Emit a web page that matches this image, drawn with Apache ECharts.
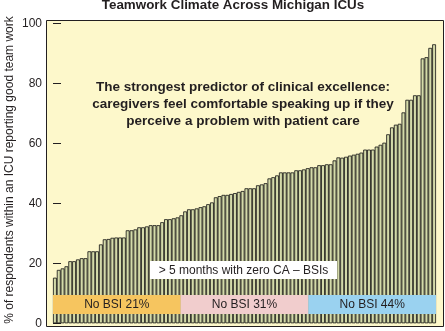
<!DOCTYPE html>
<html>
<head>
<meta charset="utf-8">
<script src="https://cdn.jsdelivr.net/npm/echarts@6/dist/echarts.min.js"></script>
<style>
  html, body { margin: 0; padding: 0; background: #ffffff; }
  #chart { width: 445px; height: 331px; }
</style>
</head>
<body>
<div id="chart"></div>
<script>
// Teamwork climate score per ICU, sorted ascending (one bar per ICU)
const teamworkPct = [
  15.2, 17.8, 18.3, 19.0, 20.7, 20.7, 21.3, 21.7, 21.7, 24.0,
  24.0, 24.0, 26.3, 28.0, 28.1, 28.5, 28.6, 28.6, 28.6, 31.0,
  31.0, 31.3, 32.0, 32.0, 32.3, 32.7, 32.7, 32.7, 33.7, 34.7,
  34.7, 35.0, 35.3, 36.0, 37.3, 38.0, 38.0, 38.3, 38.7, 39.0,
  39.7, 40.3, 42.0, 42.4, 42.8, 42.8, 43.1, 43.4, 43.8, 44.1,
  45.0, 45.0, 45.0, 46.0, 46.3, 46.7, 48.3, 48.7, 49.3, 50.3,
  50.3, 50.3, 50.3, 51.0, 51.0, 51.3, 51.7, 52.0, 52.0, 52.7,
  52.7, 53.0, 53.0, 54.3, 55.3, 55.2, 55.5, 55.9, 56.2, 56.5,
  56.9, 57.9, 57.9, 57.9, 58.9, 59.5, 60.2, 63.0, 65.3, 66.2,
  66.5, 70.3, 74.5, 74.5, 76.0, 76.0, 88.3, 88.7, 91.8, 93.0
];
const icuNames = teamworkPct.map((_, i) => 'ICU ' + (i + 1));

// Tercile bands: share of ICUs with no bloodstream infection
const tercileLabels = ['No BSI 21%', 'No BSI 31%', 'No BSI 44%'];
const tercileColors = ['#f6c55f', '#f1cdcd', '#9ad2f0'];
const tercileBand = [3.1, 9.4];   // vertical extent of the band row (axis units)

const yTicks = [0, 20, 40, 60, 80, 100];

const titleText = 'Teamwork Climate Across Michigan ICUs';
const yName = '% of respondents within an ICU reporting good team work';
const noteLines = [
  'The strongest predictor of clinical excellence:',
  'caregivers feel comfortable speaking up if they',
  'perceive a problem with patient care'
];
const boxText = '> 5 months with zero CA \u2013 BSIs';

const FONT = '"Liberation Sans", Arial, Helvetica, sans-serif';
const INK = '#231f20';

const chart = echarts.init(document.getElementById('chart'), null, { renderer: 'canvas' });

chart.setOption({
  animation: false,
  backgroundColor: '#ffffff',
  grid: {
    left: 53, right: 9, top: 23.3, bottom: 4.7,
    containLabel: false,
    outerBoundsMode: 'none'
  },
  xAxis: [
    { type: 'category', data: icuNames, show: false, boundaryGap: true },
    { type: 'value', min: 0, max: 3, show: false }
  ],
  yAxis: {
    type: 'value',
    min: -1,
    max: 100,
    offset: 7,
    axisLine: { show: false },
    splitLine: { show: false },
    axisTick: {
      show: true, inside: true, length: 8,
      customValues: yTicks,
      lineStyle: { color: INK, width: 1 }
    },
    axisLabel: {
      customValues: yTicks,
      margin: 4,
      color: INK,
      fontSize: 12,
      fontFamily: FONT
    }
  },
  series: [
    {
      type: 'bar',
      data: teamworkPct,
      barWidth: '100%',
      barCategoryGap: '0%',
      itemStyle: { color: '#d4daa9', borderColor: '#111111', borderWidth: 0.8 },
      z: 2
    },
    {
      type: 'custom',
      xAxisIndex: 1,
      yAxisIndex: 0,
      data: tercileLabels.map((label, i) => [i, i + 1, label]),
      z: 5,
      renderItem: function (params, api) {
        const i = params.dataIndex;
        const p0 = api.coord([api.value(0), tercileBand[1]]);
        const p1 = api.coord([api.value(1), tercileBand[0]]);
        return {
          type: 'group',
          children: [
            {
              type: 'rect',
              shape: { x: p0[0], y: p0[1], width: p1[0] - p0[0], height: p1[1] - p0[1] },
              style: { fill: tercileColors[i] }
            },
            {
              type: 'text',
              x: (p0[0] + p1[0]) / 2,
              y: (p0[1] + p1[1]) / 2 + 0.5,
              style: {
                text: tercileLabels[i],
                fill: INK,
                font: '12px ' + FONT,
                align: 'center',
                verticalAlign: 'middle'
              }
            }
          ]
        };
      }
    }
  ],
  graphic: [
    // plot panel background
    {
      type: 'rect', z: -10, silent: true,
      shape: { x: 46, y: 20, width: 398, height: 306 },
      style: { fill: '#fdf8cb' }
    },
    // plot panel frame
    {
      type: 'rect', z: 50, silent: true,
      shape: { x: 46.5, y: 20.5, width: 397, height: 306 },
      style: { fill: 'none', stroke: INK, lineWidth: 1 }
    },
    // y axis title
    {
      type: 'text', z: 50,
      x: 10, y: 170, rotation: Math.PI / 2,
      style: {
        text: yName,
        fill: INK,
        font: '12px ' + FONT,
        align: 'center',
        verticalAlign: 'middle'
      }
    },
    {
      type: 'text', z: 50,
      x: 233, y: 5,
      style: {
        text: titleText,
        fill: INK,
        font: 'bold 13.4px ' + FONT,
        align: 'center',
        verticalAlign: 'middle'
      }
    },
    {
      type: 'text', z: 50,
      x: 243, y: 104,
      style: {
        text: noteLines.join('\n'),
        fill: INK,
        font: 'bold 13.5px ' + FONT,
        lineHeight: 17,
        align: 'center',
        verticalAlign: 'middle'
      }
    },
    {
      type: 'rect', z: 50,
      shape: { x: 150, y: 261, width: 187, height: 18 },
      style: { fill: '#ffffff' }
    },
    {
      type: 'text', z: 51,
      x: 243.5, y: 270.5,
      style: {
        text: boxText,
        fill: INK,
        font: '12px ' + FONT,
        align: 'center',
        verticalAlign: 'middle'
      }
    }
  ]
});
</script>
</body>
</html>
